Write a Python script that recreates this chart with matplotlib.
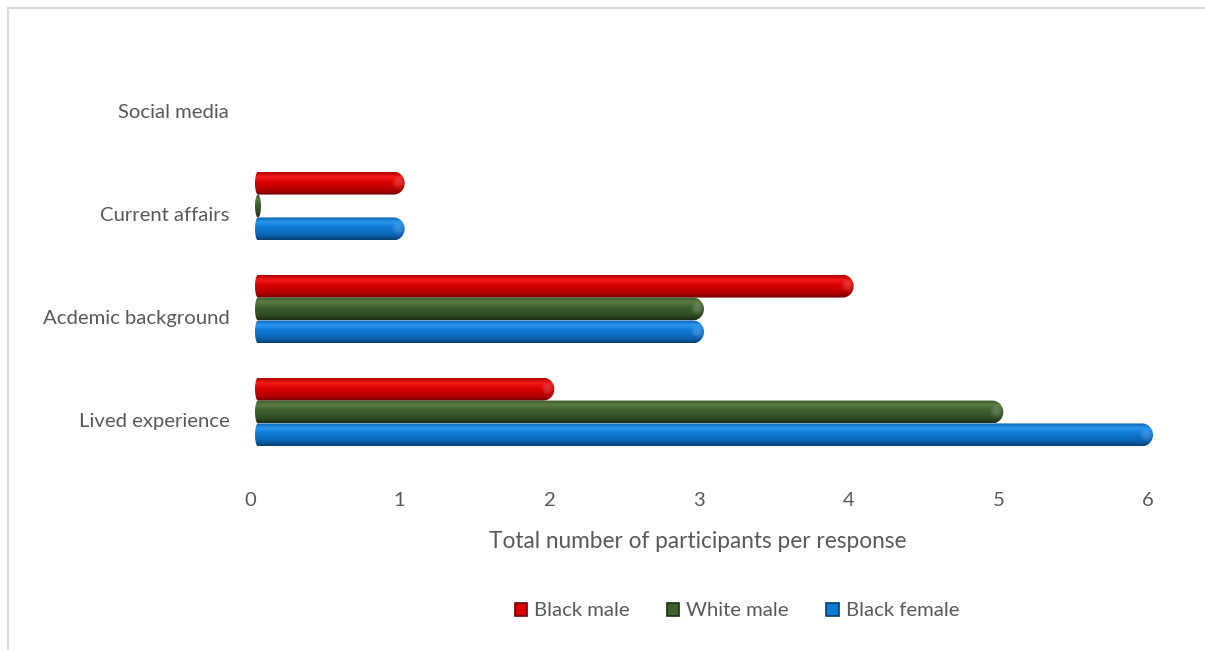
import numpy as np
import matplotlib
matplotlib.use("Agg")
import matplotlib.pyplot as plt
from matplotlib.path import Path
from matplotlib.patches import PathPatch, Patch
from matplotlib.colors import LinearSegmentedColormap
from matplotlib.lines import Line2D
import matplotlib.transforms as mtransforms

# Responses, bottom to top
categories = ["Lived experience", "Acdemic background", "Current affairs", "Social media"]
series_names = ["Black male", "White male", "Black female"]
black_male = [2, 4, 1, np.nan]
white_male = [5, 3, 0, np.nan]
black_female = [6, 3, 1, np.nan]
x_ticks = [0, 1, 2, 3, 4, 5, 6]
x_label = "Total number of participants per response"

series_values = [black_male, white_male, black_female]
# cylinder shading per series: top edge, highlight, base, lower, bottom edge
shades = [
    ["#b00000", "#f21a1a", "#d80000", "#b00000", "#700000"],
    ["#3a5a2a", "#5a7c44", "#3f5f2e", "#304b24", "#1c2e14"],
    ["#0b62b0", "#2a96ee", "#0f7ad6", "#0b62ae", "#063e70"],
]

FONT = ["Lato", "DejaVu Sans"]
TXT = "#595959"
plt.rcParams["font.family"] = FONT

fig = plt.figure(figsize=(12.05, 6.5), dpi=100)
ax = fig.add_axes([255 / 1205, 1 - 463.5 / 650, (1153 - 255) / 1205, 412 / 650])

bar_h = 0.222
offsets = [bar_h, 0.0, -bar_h]
ypos = np.arange(len(categories))

px_per_x = (1153 - 255) / 6.0


def rounded_path(x0, x1, y0, y1):
    """Cylinder outline: shallow elliptical cap on the left, round cap on the right."""
    ry = (y1 - y0) / 2
    yc = (y0 + y1) / 2
    rx_r = 11.0 / px_per_x
    rx_l = 3.0 / px_per_x
    length = x1 - x0
    if length < rx_r + rx_l:
        # zero-length bar: only the end cap shows
        cx = x0 + rx_l
        th = np.linspace(0, 2 * np.pi, 60)
        pts = np.column_stack([cx + rx_l * np.cos(th), yc + ry * np.sin(th)])
        return Path(pts, closed=True)
    th_r = np.linspace(-np.pi / 2, np.pi / 2, 40)
    right = np.column_stack([x1 - rx_r + rx_r * np.cos(th_r), yc + ry * np.sin(th_r)])
    th_l = np.linspace(np.pi / 2, 3 * np.pi / 2, 40)
    left = np.column_stack([x0 + rx_l + rx_l * np.cos(th_l), yc + ry * np.sin(th_l)])
    pts = np.vstack([right, left, right[:1]])
    return Path(pts, closed=True)


grad = np.linspace(0, 1, 64).reshape(-1, 1)
for vals, off, cols, name in zip(series_values, offsets, shades, series_names):
    cmap = LinearSegmentedColormap.from_list(
        name, list(zip([0.0, 0.2, 0.45, 0.8, 1.0], cols)))
    bars = ax.barh(ypos + off, np.nan_to_num(vals, nan=0.0), height=bar_h,
                   color="none", edgecolor="none", label=name)
    for rect, v in zip(bars, vals):
        if np.isnan(v):
            continue
        x0, w = rect.get_x(), rect.get_width()
        y0, h = rect.get_y(), rect.get_height()
        path = rounded_path(x0, x0 + w, y0, y0 + h)
        patch = PathPatch(path, facecolor="none", edgecolor="none")
        ax.add_patch(patch)
        ext = path.get_extents()
        im = ax.imshow(grad, cmap=cmap, aspect="auto", origin="upper",
                       extent=[ext.x0, ext.x1, y0, y0 + h], interpolation="bilinear",
                       zorder=2)
        im.set_clip_path(patch)
        # soft specular glow near the rounded end
        if w > 0.2:
            for s, a in [(90, 0.05), (50, 0.06), (22, 0.07)]:
                glow = ax.scatter([x0 + w - 7.0 / px_per_x], [y0 + h * 0.55], s=s,
                                  color="white", alpha=a, linewidths=0, zorder=3)
                glow.set_clip_path(patch)

ax.set_xlim(0, 6)
ax.set_ylim(-0.5, len(categories) - 0.5)
ax.set_xticks(x_ticks)
ax.set_xticklabels([str(t) for t in x_ticks])
ax.set_yticks(ypos)
ax.set_yticklabels(categories)
for s in ax.spines.values():
    s.set_visible(False)
ax.tick_params(axis="both", length=0, labelsize=14.6, labelcolor=TXT)
ax.tick_params(axis="x", pad=20.5)
ax.tick_params(axis="y", pad=18.5)

# category labels and value labels sit slightly below / left of the bars
dy = mtransforms.ScaledTranslation(0, -8 / 100, fig.dpi_scale_trans)
for lbl in ax.get_yticklabels():
    lbl.set_transform(lbl.get_transform() + dy)
dx = mtransforms.ScaledTranslation(-5 / 100, 0, fig.dpi_scale_trans)
for lbl in ax.get_xticklabels():
    lbl.set_transform(lbl.get_transform() + dx)

fig.text(698 / 1205, 1 - 541 / 650, x_label, ha="center", va="center",
         fontsize=16.3, color=TXT)

handles = [Patch(facecolor=c[2], edgecolor=c[4], linewidth=1.2) for c in shades]
fig.legend(handles, series_names, loc="center", bbox_to_anchor=(737 / 1205, 1 - 611 / 650),
           ncol=3, frameon=False, fontsize=14.6, labelcolor=TXT,
           handlelength=0.6, handleheight=0.6, handletextpad=0.35, columnspacing=1.85)

# chart frame
fig.add_artist(Line2D([8 / 1205, 1.0], [1 - 8 / 650] * 2, color="#d9d9d9", lw=1.6))
fig.add_artist(Line2D([8 / 1205] * 2, [0.0, 1 - 8 / 650], color="#d9d9d9", lw=1.6))

fig.savefig("out.png", dpi=100, facecolor="white")
